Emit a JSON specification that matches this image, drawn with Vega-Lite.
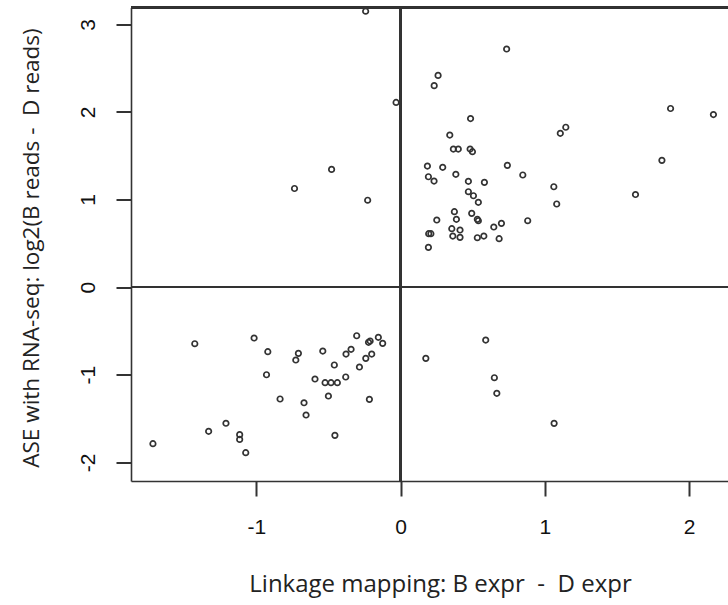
{
  "$schema": "https://vega.github.io/schema/vega-lite/v6.json",
  "width": 597,
  "height": 473.5,
  "autosize": {"type": "none"},
  "padding": {"left": 131, "top": 7.5, "right": 0, "bottom": 124},
  "background": "white",
  "config": {
    "view": {"stroke": null},
    "axis": {"grid": false, "ticks": true, "tickSize": 15, "tickWidth": 2, "tickColor": "#333333", "tickOpacity": 1, "domainColor": "#333333", "domainWidth": 1.6}
  },
  "data": {
    "values": [
      {"x": -0.242, "y": 3.15}, {"x": -0.031, "y": 2.108}, {"x": -0.478, "y": 1.344}, {"x": -0.735, "y": 1.126}, {"x": -0.228, "y": 0.992},
      {"x": 0.735, "y": 2.718}, {"x": 0.26, "y": 2.417}, {"x": 0.233, "y": 2.3}, {"x": 0.485, "y": 1.924}, {"x": 1.871, "y": 2.039},
      {"x": 2.168, "y": 1.97}, {"x": 1.145, "y": 1.825}, {"x": 1.107, "y": 1.756}, {"x": 0.341, "y": 1.736}, {"x": 0.366, "y": 1.576},
      {"x": 0.4, "y": 1.576}, {"x": 0.482, "y": 1.576}, {"x": 0.498, "y": 1.546}, {"x": 1.811, "y": 1.447}, {"x": 0.186, "y": 1.382},
      {"x": 0.292, "y": 1.368}, {"x": 0.74, "y": 1.39}, {"x": 0.847, "y": 1.28}, {"x": 0.193, "y": 1.26}, {"x": 0.232, "y": 1.211},
      {"x": 0.383, "y": 1.288}, {"x": 0.47, "y": 1.208}, {"x": 0.581, "y": 1.196}, {"x": 1.062, "y": 1.146}, {"x": 1.628, "y": 1.057},
      {"x": 0.47, "y": 1.089}, {"x": 0.505, "y": 1.043}, {"x": 0.539, "y": 0.968}, {"x": 1.082, "y": 0.949}, {"x": 0.373, "y": 0.861},
      {"x": 0.387, "y": 0.774}, {"x": 0.493, "y": 0.842}, {"x": 0.532, "y": 0.774}, {"x": 0.539, "y": 0.758}, {"x": 0.251, "y": 0.766},
      {"x": 0.881, "y": 0.758}, {"x": 0.646, "y": 0.686}, {"x": 0.699, "y": 0.728}, {"x": 0.355, "y": 0.667}, {"x": 0.412, "y": 0.652},
      {"x": 0.362, "y": 0.583}, {"x": 0.412, "y": 0.568}, {"x": 0.532, "y": 0.564}, {"x": 0.577, "y": 0.583}, {"x": 0.683, "y": 0.553},
      {"x": 0.195, "y": 0.61}, {"x": 0.21, "y": 0.61}, {"x": 0.193, "y": 0.454},
      {"x": 0.175, "y": -0.813}, {"x": 0.59, "y": -0.604}, {"x": 0.65, "y": -1.034}, {"x": 0.667, "y": -1.212}, {"x": 1.064, "y": -1.555},
      {"x": -1.426, "y": -0.646}, {"x": -1.015, "y": -0.581}, {"x": -0.92, "y": -0.737}, {"x": -0.929, "y": -1.0}, {"x": -0.708, "y": -0.756},
      {"x": -0.726, "y": -0.832}, {"x": -0.539, "y": -0.73}, {"x": -0.459, "y": -0.889}, {"x": -0.593, "y": -1.049}, {"x": -0.523, "y": -1.091},
      {"x": -0.482, "y": -1.091}, {"x": -0.438, "y": -1.091}, {"x": -0.38, "y": -1.026}, {"x": -0.5, "y": -1.243}, {"x": -0.835, "y": -1.277},
      {"x": -0.669, "y": -1.32}, {"x": -0.655, "y": -1.46}, {"x": -0.455, "y": -1.692}, {"x": -0.304, "y": -0.555}, {"x": -0.343, "y": -0.71},
      {"x": -0.378, "y": -0.764}, {"x": -0.285, "y": -0.912}, {"x": -0.222, "y": -0.63}, {"x": -0.211, "y": -0.615}, {"x": -0.154, "y": -0.573},
      {"x": -0.124, "y": -0.642}, {"x": -0.2, "y": -0.764}, {"x": -0.241, "y": -0.813}, {"x": -0.216, "y": -1.281}, {"x": -1.716, "y": -1.787},
      {"x": -1.33, "y": -1.646}, {"x": -1.21, "y": -1.554}, {"x": -1.115, "y": -1.684}, {"x": -1.115, "y": -1.738}, {"x": -1.073, "y": -1.89}
    ]
  },
  "layer": [
    {
      "mark": {"type": "point", "filled": false, "color": "#333333", "size": 30, "strokeWidth": 1.7, "opacity": 1},
      "encoding": {
        "x": {
          "field": "x", "type": "quantitative",
          "scale": {"domain": [-1.868, 2.269], "nice": false, "zero": false},
          "axis": {
            "title": "Linkage mapping: B expr \u00a0-\u00a0 D expr",
            "values": [-1, 0, 1, 2],
            "labelExpr": "'' + datum.value",
            "labelFont": "Liberation Sans", "labelFontSize": 21, "labelColor": "#111111",
            "labelPadding": 20, "labelFlush": false,
            "titleFont": "Open Sans", "titleFontSize": 24, "titleFontWeight": "normal", "titleColor": "#222222",
            "titleX": 309, "titleY": 103, "titleBaseline": "middle", "titleAlign": "center"
          }
        },
        "y": {
          "field": "y", "type": "quantitative",
          "scale": {"domain": [-2.213, 3.192], "nice": false, "zero": false},
          "axis": {
            "title": "ASE with RNA-seq: log2(B reads - \u00a0D reads)",
            "values": [-2, -1, 0, 1, 2, 3],
            "labelExpr": "'' + datum.value",
            "labelFont": "Liberation Sans", "labelFontSize": 21, "labelColor": "#111111",
            "labelAngle": -90, "labelAlign": "center", "labelBaseline": "bottom",
            "labelPadding": 18, "labelFlush": false,
            "titleFont": "Open Sans", "titleFontSize": 22.5, "titleFontWeight": "normal", "titleColor": "#222222",
            "titleAngle": -90, "titleX": -100, "titleY": 240, "titleBaseline": "middle", "titleAlign": "center"
          }
        }
      }
    },
    {
      "mark": {"type": "rule", "color": "#333333", "strokeWidth": 1.6},
      "encoding": {
        "x": {"datum": 0, "type": "quantitative"}
      }
    },
    {
      "mark": {"type": "rule", "color": "#333333", "strokeWidth": 1.6},
      "encoding": {
        "y": {"datum": 0, "type": "quantitative"}
      }
    },
    {
      "mark": {"type": "rule", "color": "#333333", "strokeWidth": 1.6},
      "encoding": {
        "y": {"datum": 3.192, "type": "quantitative"}
      }
    }
  ]
}
